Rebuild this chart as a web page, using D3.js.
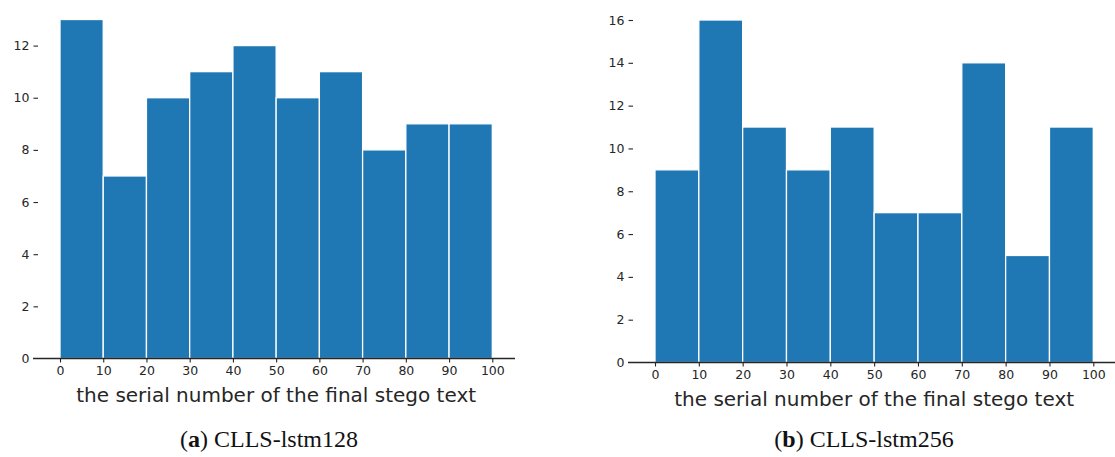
<!DOCTYPE html>
<html>
<head>
<meta charset="utf-8">
<script src="https://cdn.jsdelivr.net/npm/d3@7"></script>
<style>
  html, body { margin: 0; padding: 0; background: #fff; }
  svg { display: block; }
  .tick text { font-family: "DejaVu Sans", sans-serif; font-size: 12.5px; fill: #262626; }
  .xlabel { font-family: "DejaVu Sans", sans-serif; font-size: 20px; fill: #262626; }
  .caption { font-family: "Liberation Serif", serif; font-size: 24px; fill: #111; }
</style>
</head>
<body>
<svg id="chart" width="1115" height="457"></svg>
<script>
// Histogram bin edges (shared by both panels)
const binEdges = [0, 10, 20, 30, 40, 50, 60, 70, 80, 90, 100];
const xTickValues = [0, 10, 20, 30, 40, 50, 60, 70, 80, 90, 100];

// Counts per bin
const countsLstm128 = [13, 7, 10, 11, 12, 10, 11, 8, 9, 9];
const countsLstm256 = [9, 16, 11, 9, 11, 7, 7, 14, 5, 11];

// Y tick labels
const yTicksLstm128 = [0, 2, 4, 6, 8, 10, 12];
const yTicksLstm256 = [0, 2, 4, 6, 8, 10, 12, 14, 16];

const xAxisTitle = "the serial number of the final stego text";

const svg = d3.select("#chart");

function drawPanel(cfg) {
  const g = svg.append("g");
  const x = d3.scaleLinear().domain([0, 100]).range([cfg.x0, cfg.x1]);
  const y = d3.scaleLinear().domain([0, cfg.yMax]).range([cfg.y0, cfg.yTop]);

  const bins = cfg.counts.map((c, i) => ({ lo: binEdges[i], hi: binEdges[i + 1], c }));

  g.selectAll("rect.bar")
    .data(bins)
    .join("rect")
    .attr("class", "bar")
    .attr("x", d => x(d.lo))
    .attr("width", d => x(d.hi) - x(d.lo))
    .attr("y", d => y(d.c))
    .attr("height", d => y(0) - y(d.c))
    .attr("fill", "#1f77b4")
    .attr("stroke", "#ffffff")
    .attr("stroke-width", 1.3);

  // bottom axis
  const xAxis = d3.axisBottom(x).tickValues(xTickValues).tickSizeOuter(0).tickSizeInner(4).tickPadding(4);
  const gx = g.append("g").attr("transform", `translate(0,${cfg.y0})`).call(xAxis);
  gx.select(".domain").remove();
  gx.selectAll(".tick line").attr("stroke", "#262626").attr("stroke-width", 1.1);
  gx.append("line")
    .attr("x1", cfg.spineL).attr("x2", cfg.spineR)
    .attr("y1", 0).attr("y2", 0)
    .attr("stroke", "#262626").attr("stroke-width", 1.3);

  // left axis (ticks only, no spine)
  const yAxis = d3.axisLeft(y).tickValues(cfg.yTicks).tickSizeOuter(0).tickSizeInner(4.5).tickPadding(4);
  const gy = g.append("g").attr("transform", `translate(${cfg.spineL + 5},0)`).call(yAxis);
  gy.select(".domain").remove();
  gy.selectAll(".tick line").attr("stroke", "#262626").attr("stroke-width", 1.1);
  gy.selectAll(".tick").filter(d => d === 0).select("line").remove();

  g.append("text")
    .attr("class", "xlabel")
    .attr("x", (cfg.x0 + cfg.x1) / 2)
    .attr("y", cfg.y0 + 43)
    .attr("text-anchor", "middle")
    .text(xAxisTitle);

  const cap = g.append("text")
    .attr("class", "caption")
    .attr("x", cfg.capX)
    .attr("y", 447)
    .attr("text-anchor", "middle");
  cap.append("tspan").text("(");
  cap.append("tspan").attr("font-weight", "bold").text(cfg.letter);
  cap.append("tspan").text(") " + cfg.name);
}

drawPanel({
  counts: countsLstm128, yTicks: yTicksLstm128, yMax: 13,
  x0: 60, x1: 492.3, y0: 358.5, yTop: 19.5,
  spineL: 33, spineR: 515, capX: 269, letter: "a", name: "CLLS-lstm128"
});

drawPanel({
  counts: countsLstm256, yTicks: yTicksLstm256, yMax: 16,
  x0: 655, x1: 1093.3, y0: 362.5, yTop: 20,
  spineL: 628, spineR: 1115, capX: 864, letter: "b", name: "CLLS-lstm256"
});
</script>
</body>
</html>
